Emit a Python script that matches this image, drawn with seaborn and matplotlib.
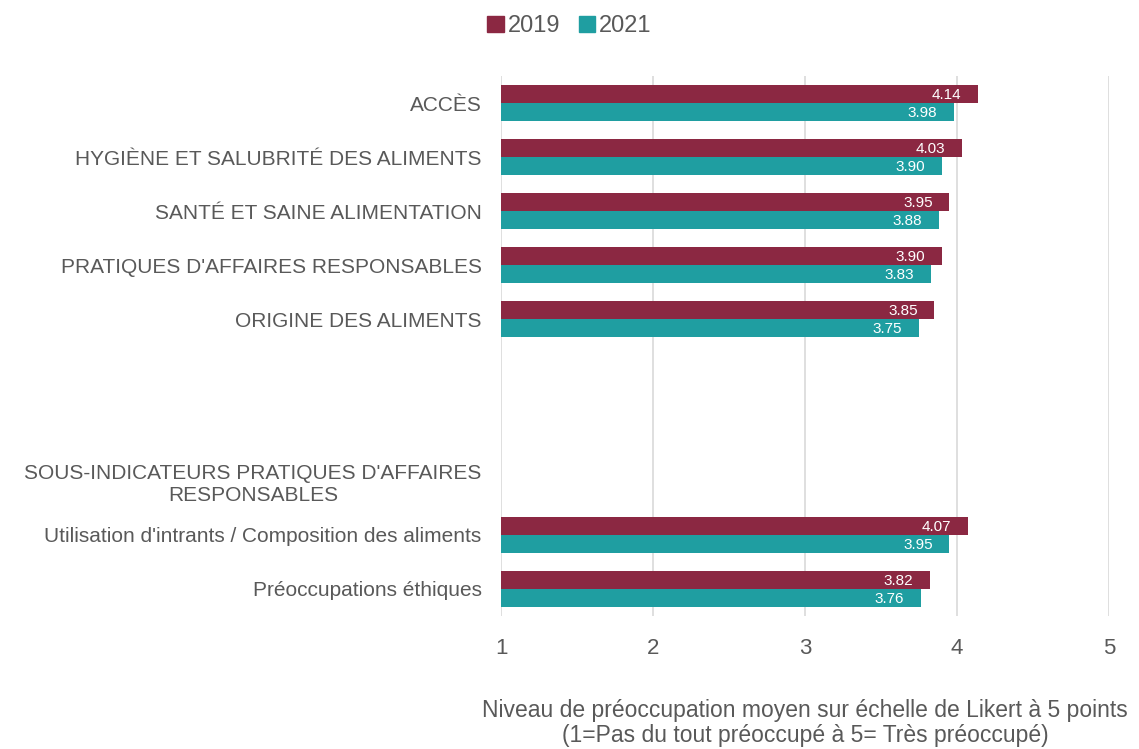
import matplotlib
matplotlib.use("Agg")
import matplotlib.pyplot as plt
import seaborn as sns
import pandas as pd

#chart data
categories = ["ACCÈS",
              "HYGIÈNE ET SALUBRITÉ DES ALIMENTS",
              "SANTÉ ET SAINE ALIMENTATION",
              "PRATIQUES D'AFFAIRES RESPONSABLES",
              "ORIGINE DES ALIMENTS",
              " ",
              "  ",
              "SOUS-INDICATEURS PRATIQUES D'AFFAIRES\nRESPONSABLES",
              "Utilisation d'intrants / Composition des aliments",
              "Préoccupations éthiques"]
bar_categories = ["ACCÈS",
                  "HYGIÈNE ET SALUBRITÉ DES ALIMENTS",
                  "SANTÉ ET SAINE ALIMENTATION",
                  "PRATIQUES D'AFFAIRES RESPONSABLES",
                  "ORIGINE DES ALIMENTS",
                  "Utilisation d'intrants / Composition des aliments",
                  "Préoccupations éthiques"]
values_2019 = [4.14, 4.03, 3.95, 3.90, 3.85, 4.07, 3.82]
values_2021 = [3.98, 3.90, 3.88, 3.83, 3.75, 3.95, 3.76]
years = ["2019", "2021"]
x_ticks = [1, 2, 3, 4, 5]

colors = {"2019": "#8B2842", "2021": "#1F9EA1"}
text_grey = "#595959"

#long-form table for seaborn
df = pd.DataFrame({
    "categorie": bar_categories * 2,
    "annee": [years[0]] * len(values_2019) + [years[1]] * len(values_2021),
    "valeur": values_2019 + values_2021,
})

sns.set_style("white")
plt.rcParams['font.family'] = ['Liberation Sans', 'DejaVu Sans']

fig = plt.figure(figsize=(11.39, 7.49), dpi=100)
ax = fig.add_axes([0.4399, 0.1776, 0.5338, 0.7209])

sns.barplot(data=df, y="categorie", x="valeur", hue="annee", order=categories,
            hue_order=years, palette=colors, orient="h", width=0.667,
            linewidth=0, saturation=1, ax=ax, legend=False)

ax.set_xlim(1, 5)
ax.set_xticks(x_ticks)
ax.set_xticklabels([str(t) for t in x_ticks])
ax.set_ylim(len(categories) - 0.5, -0.5)
ax.grid(axis="x", color="#D9D9D9", linewidth=1.2)
ax.set_axisbelow(True)
for s in ax.spines.values():
    s.set_visible(False)
ax.tick_params(axis="y", length=0, pad=14, labelsize=15, labelcolor=text_grey)
ax.tick_params(axis="x", length=0, pad=16, labelsize=16, labelcolor=text_grey)
for lbl in ax.get_yticklabels():
    lbl.set_multialignment("center")
ax.set_ylabel("")
ax.set_xlabel("Niveau de préoccupation moyen sur échelle de Likert à 5 points\n(1=Pas du tout préoccupé à 5= Très préoccupé)",
              fontsize=16.5, color=text_grey, labelpad=29, linespacing=1.08)

#value labels inside the bar ends
for cont in ax.containers:
    for rect in cont:
        w = rect.get_width()
        if w != w or w == 0:
            continue
        ax.annotate(f"{w:.2f}", xy=(w, rect.get_y() + rect.get_height() / 2),
                    xytext=(-12, -1), textcoords="offset points",
                    ha="right", va="center", color="white", fontsize=11)

#legend on top
handles = [plt.Rectangle((0, 0), 1, 1, color=colors[y]) for y in years]
fig.legend(handles, years, loc="upper center", bbox_to_anchor=(0.5, 1.008),
           ncol=2, frameon=False, fontsize=17, labelcolor=text_grey,
           handlelength=0.7, handleheight=0.7, handletextpad=0.15,
           columnspacing=0.8)

fig.savefig("out.png", dpi=100)
